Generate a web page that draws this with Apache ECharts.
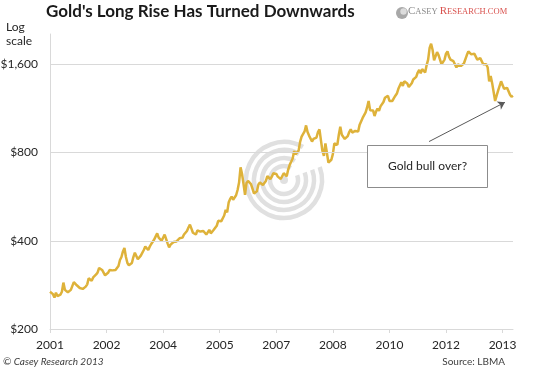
<!DOCTYPE html>
<html>
<head>
<meta charset="utf-8">
<script src="https://cdn.jsdelivr.net/npm/echarts@6/dist/echarts.min.js"></script>
<style>
html,body{margin:0;padding:0;background:#fff;}
#chart{width:541px;height:368px;}
</style>
</head>
<body>
<div id="chart"></div>
<script>
// Semi-monthly gold price (USD/oz), Jan 2001 .. Dec 2013 (two readings per month)
const goldPrices = [
  268,264, 263,256, 266,259, 257,262, 268,288, 272,270, 267,266, 272,275, 289,291, 282,278, 276,274, 274,278,
  279,284, 298,295, 292,300, 302,307, 312,323, 322,318, 316,305, 307,311, 318,322, 317,314, 318,319, 328,344,
  352,368, 378,352, 336,330, 329,336, 352,364, 360,346, 349,356, 360,372, 382,386, 372,382, 390,396, 404,414,
  424,410, 406,400, 400,420, 422,392, 380,388, 392,396, 402,398, 400,408, 406,410, 420,424, 432,444, 454,440,
  426,422, 420,434, 440,430, 426,432, 426,420, 426,436, 424,422, 436,442, 450,468, 470,466, 466,488, 510,500,
  540,556, 566,552, 556,572, 596,632, 712,676, 624,574, 630,640, 648,624, 602,580, 574,590, 622,632, 630,620,
  624,640, 664,672, 650,662, 680,690, 676,662, 658,650, 660,680, 670,664, 700,726, 744,764, 810,790, 796,812,
  870,906, 918,944, 990,940, 914,900, 872,890, 884,900, 940,960, 880,810, 780,860, 870,740, 740,756, 790,860,
  860,850, 920,980, 920,930, 890,880, 910,940, 960,936, 928,948, 954,944, 996,1010, 1050,1058, 1096,1140, 1200,1116,
  1130,1114, 1066,1104, 1130,1110, 1150,1140, 1190,1230, 1224,1250, 1200,1186, 1200,1226, 1250,1272, 1320,1340, 1390,1350, 1400,1384,
  1376,1340, 1350,1378, 1420,1410, 1450,1500, 1530,1490, 1540,1530, 1500,1590, 1660,1820, 1880,1790, 1650,1660, 1760,1720, 1720,1600,
  1600,1660, 1740,1770, 1700,1660, 1660,1640, 1620,1560, 1600,1600, 1580,1590, 1610,1630, 1720,1770, 1780,1730, 1720,1740, 1700,1660,
  1660,1680, 1660,1600, 1580,1600, 1560,1400, 1460,1380, 1390,1200, 1250,1300, 1320,1400, 1390,1320, 1310,1330, 1310,1260, 1240,1250
];
// x position of each reading, in months since Jan 2001
const samplesPerMonth = 2;

// x axis ticks (months since Jan 2001) and their labels
const xTickPositions = [0, 19, 38, 57, 76, 95, 114, 133, 152];
const xTickLabels = ['2001', '2002', '2004', '2005', '2007', '2008', '2010', '2012', '2013'];

// y axis (log scale) ticks and labels
const yTickValues = [200, 400, 800, 1600];
const yTickLabels = ['$200', '$400', '$800', '$1,600'];

// annotation arrow (month index, price)
const arrowFrom = [127.3, 872];
const arrowTo = [152.8, 1187];

const seriesData = goldPrices.map((v, i) => [i / samplesPerMonth, v]);

const FONT = 'Lato';
const TXT = '#262626';
const GRID = '#d9d9d9';

const chart = echarts.init(document.getElementById('chart'), null, {renderer: 'canvas'});

function ring(r, lw) {
  return {
    type: 'arc', z: 0, silent: true,
    shape: {cx: 284, cy: 180, r: r, startAngle: -0.35, endAngle: Math.PI * 2 - 1.05},
    style: {stroke: '#e0e0e0', lineWidth: lw, fill: null}
  };
}

chart.setOption({
  animation: false,
  backgroundColor: '#fff',
  grid: {left: 50, right: 28, top: 34, bottom: 39},
  xAxis: {
    type: 'value', min: 0, max: 155.5,
    axisLine: {show: true, lineStyle: {color: GRID, width: 1}},
    axisTick: {show: true, customValues: xTickPositions, length: 4, lineStyle: {color: GRID}},
    axisLabel: {
      customValues: xTickPositions,
      formatter: v => { const k = xTickPositions.indexOf(v); return k >= 0 ? xTickLabels[k] : ''; },
      fontFamily: FONT, fontSize: 12, color: TXT, margin: 10
    },
    splitLine: {show: false}
  },
  yAxis: {
    type: 'log', logBase: 2, min: 200, max: 2030,
    axisLine: {show: true, lineStyle: {color: GRID, width: 1}},
    axisTick: {show: false},
    axisLabel: {show: false},
    splitLine: {show: false}
  },
  series: [
    {
      name: 'grid', type: 'line', data: seriesData, showSymbol: false, silent: true, z: 1,
      lineStyle: {opacity: 0},
      markLine: {
        silent: true, symbol: 'none', animation: false,
        lineStyle: {color: GRID, type: 'solid', width: 1},
        label: {position: 'start', distance: 12, formatter: '{b}', fontFamily: FONT, fontSize: 12, color: TXT},
        emphasis: {disabled: true},
        data: yTickValues.map((v, i) => ({yAxis: v, name: yTickLabels[i]}))
      }
    },
    {
      name: 'Gold', type: 'line', data: seriesData, showSymbol: false, z: 3,
      lineStyle: {color: '#DEB23A', width: 2.5},
      emphasis: {disabled: true},
      markLine: {
        silent: true, symbol: ['none', 'arrow'], symbolSize: 7, animation: false,
        lineStyle: {color: '#595959', type: 'solid', width: 1},
        itemStyle: {color: '#595959'},
        label: {show: false},
        emphasis: {disabled: true},
        data: [[{coord: arrowFrom}, {coord: arrowTo}]]
      }
    }
  ],
  graphic: [
    ring(38, 4.5), ring(30, 4.5), ring(22, 4.5), ring(14, 4.5),
    {type: 'circle', z: 0, silent: true, shape: {cx: 284, cy: 180, r: 4}, style: {fill: '#e0e0e0'}},
    {type: 'text', left: 46, top: 3, z: 10,
     style: {text: "Gold's Long Rise Has Turned Downwards", font: 'bold 17px Lato', fill: '#1a1a1a'}},
    {type: 'text', left: 6, top: 20, z: 10,
     style: {text: 'Log\nscale', font: '12px Lato', fill: TXT, align: 'center', lineHeight: 14, x: 13}},
    {type: 'circle', z: 10, shape: {cx: 402, cy: 13, r: 6}, style: {fill: '#a8a8a8'}},
    {type: 'circle', z: 10, shape: {cx: 403.5, cy: 11.5, r: 3.2}, style: {fill: '#dcdcdc'}},
    {type: 'text', left: 408, top: 6, z: 10,
     style: {
       text: '{a|C}{b|ASEY }{c|R}{d|ESEARCH.COM}',
       rich: {
         a: {fontFamily: 'Liberation Serif', fontSize: 11, fill: '#8a8a8a'},
         b: {fontFamily: 'Liberation Serif', fontSize: 8.5, fill: '#8a8a8a'},
         c: {fontFamily: 'Liberation Serif', fontSize: 11, fill: '#d9534f'},
         d: {fontFamily: 'Liberation Serif', fontSize: 8.5, fill: '#d9534f'}
       }
     }},
    {type: 'rect', z: 10, shape: {x: 367.5, y: 145.5, width: 120, height: 42},
     style: {fill: '#fff', stroke: '#8c8c8c', lineWidth: 1}},
    {type: 'text', z: 11, x: 427.5, y: 166.5,
     style: {text: 'Gold bull over?', font: '12px Lato', fill: TXT, align: 'center', verticalAlign: 'middle'}},
    {type: 'text', left: 3, top: 357, z: 10,
     style: {text: '\u00a9 Casey Research 2013', font: 'italic 10px Lato', fill: '#404040'}},
    {type: 'text', right: 36, top: 357, z: 10,
     style: {text: 'Source: LBMA', font: '10px Lato', fill: '#404040'}}
  ]
});
</script>
</body>
</html>
